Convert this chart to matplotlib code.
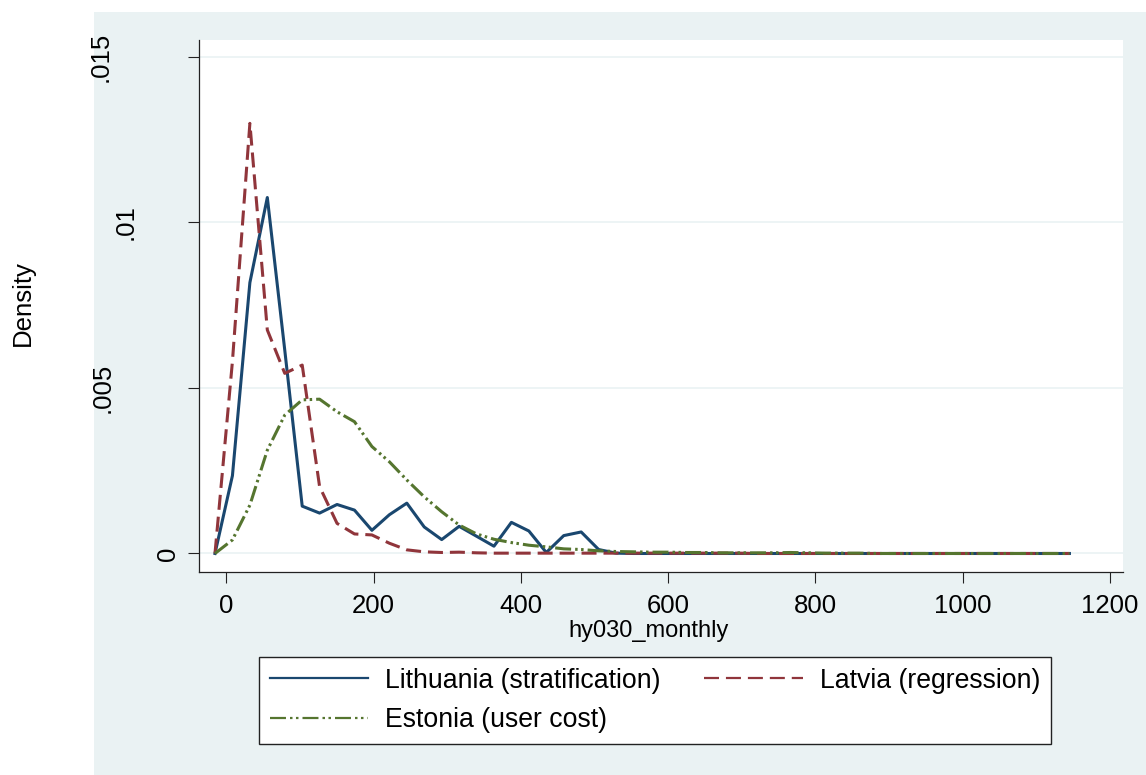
import matplotlib
matplotlib.use("Agg")
import matplotlib.pyplot as plt
from matplotlib.patches import Rectangle
from matplotlib.transforms import blended_transform_factory

plt.rcParams['font.family'] = ['Liberation Sans', 'DejaVu Sans']
plt.rcParams['lines.scale_dashes'] = False

# kdensity evaluation points
x = [-15.6, 8.1, 31.8, 55.5, 79.2, 102.9, 126.5, 150.2, 173.9, 197.6,
     221.3, 245.0, 268.7, 292.4, 316.1, 339.8, 363.4, 387.1, 410.8, 434.5,
     458.2, 481.9, 505.6, 529.3, 553.0, 576.7, 600.3, 624.0, 647.7, 671.4,
     695.1, 718.8, 742.5, 766.2, 789.9, 813.6, 837.2, 860.9, 884.6, 908.3,
     932.0, 955.7, 979.4, 1003.1, 1026.8, 1050.5, 1074.1, 1097.8, 1121.5, 1145.2]

lithuania = [0.0, 0.00235, 0.00818, 0.01075, 0.00614, 0.00143, 0.00122, 0.00148, 0.00131, 0.00070,
             0.00117, 0.00152, 0.00080, 0.00042, 0.00082, 0.00052, 0.00022, 0.00094, 0.00068, 0.00003,
             0.00054, 0.00065, 0.00012, 0.00001, 0.0, 0.0, 0.0, 0.0, 0.0, 0.0,
             0.0, 0.0, 0.0, 0.0, 0.0, 0.0, 0.0, 0.0, 0.0, 0.0,
             0.0, 0.0, 0.0, 0.0, 0.0, 0.0, 0.0, 0.0, 0.0, 0.0]

latvia = [0.0, 0.00580, 0.01299, 0.00675, 0.00544, 0.00569, 0.00202, 0.00091, 0.00059, 0.00056,
          0.00031, 0.00011, 0.00005, 0.00003, 0.00004, 0.00002, 0.00001, 0.00001, 0.00001, 0.00001,
          0.00001, 0.00001, 0.00001, 0.00001, 0.00001, 0.00001, 0.00001, 0.00001, 0.00001, 0.00001,
          0.00001, 0.0, 0.0, 0.0, 0.0, 0.0, 0.0, 0.0, 0.0, 0.0,
          0.0, 0.0, 0.0, 0.0, 0.0, 0.0, 0.0, 0.0, 0.0, 0.0]

estonia = [0.0, 0.00041, 0.00146, 0.00312, 0.00418, 0.00464, 0.00466, 0.00428, 0.00398, 0.00323,
           0.00277, 0.00222, 0.00171, 0.00126, 0.00086, 0.00059, 0.00043, 0.00033, 0.00025, 0.00020,
           0.00014, 0.00012, 0.00008, 0.00006, 0.00005, 0.00004, 0.00004, 0.00003, 0.00003, 0.00002,
           0.00002, 0.00002, 0.00002, 0.00003, 0.00002, 0.00001, 0.00001, 0.00001, 0.0, 0.0,
           0.0, 0.0, 0.0, 0.0, 0.0, 0.0, 0.0, 0.0, 0.0, 0.0]

labels = ['Lithuania (stratification)', 'Latvia (regression)', 'Estonia (user cost)']
xticks = [0, 200, 400, 600, 800, 1000, 1200]
yticks = [0, 0.005, 0.01, 0.015]
ytick_labels = ['0', '.005', '.01', '.015']
ytick_xpos = [168, 103, 126, 101]  # stata offsets rotated labels by length

W, H = 1146, 775
fs = 18.5

fig = plt.figure(figsize=(W / 100, H / 100), dpi=100)
fig.patches.append(Rectangle((94 / W, 0), 1 - 94 / W, 1 - 12 / H, transform=fig.transFigure,
                             facecolor='#eaf2f3', edgecolor='none', zorder=-10))

ax = fig.add_axes([198.5 / W, 1 - 571.5 / H, (1123 - 198.5) / W, (571.5 - 40) / H])
ax.set_facecolor('white')

l1, = ax.plot(x, lithuania, color='#1a476f', lw=2.2, label=labels[0])
l2, = ax.plot(x, latvia, color='#90353b', lw=2.2, dashes=(10.8, 5), label=labels[1])
l3, = ax.plot(x, estonia, color='#55752f', lw=2.2, dashes=(11.5, 2.9, 1.8, 2.5, 1.8, 2.9), label=labels[2])

ax.set_xlim(-38, 1218)
ax.set_ylim(-0.000544, 0.015507)

ax.set_xticks(xticks)
ax.set_xticklabels([str(t) for t in xticks], fontsize=fs)
ax.set_yticks(yticks)
ax.set_yticklabels([])
ax.tick_params(axis='both', length=8, width=0.8, color='#222222', direction='out')
ax.tick_params(axis='x', pad=8)

for s in ['top', 'right']:
    ax.spines[s].set_visible(False)
for s in ['left', 'bottom']:
    ax.spines[s].set_color('#222222')
    ax.spines[s].set_linewidth(0.9)

ax.yaxis.grid(True, color='#eaf2f3', lw=1.2)
ax.set_axisbelow(True)

trans = blended_transform_factory(fig.transFigure, ax.transData)
for val, lab, px in zip(yticks, ytick_labels, ytick_xpos):
    ax.text(px / W, val, lab, transform=trans, rotation=90, ha='center', va='center',
            fontsize=fs, clip_on=False)

fig.text(648.5 / W, 1 - 631 / H, 'hy030_monthly', ha='center', va='center', fontsize=17)
fig.text(23 / W, 1 - 303 / H, 'Density', rotation=90, ha='center', va='center', fontsize=fs)

# column-first fill: put Latvia in the second column
leg = fig.legend([l1, l3, l2], [labels[0], labels[2], labels[1]],
                 loc='upper left', bbox_to_anchor=(259 / W, 1 - 657 / H), bbox_transform=fig.transFigure,
                 ncol=2, fontsize=19.2, frameon=True, fancybox=False, edgecolor='#222222', framealpha=1,
                 borderaxespad=0, handlelength=3.7, handletextpad=0.62, columnspacing=1.65,
                 borderpad=0.4, labelspacing=0.5)
leg.get_frame().set_linewidth(1.0)
for ln in leg.get_lines():
    ln.set_linewidth(1.6)

fig.savefig('out.png', dpi=100)
